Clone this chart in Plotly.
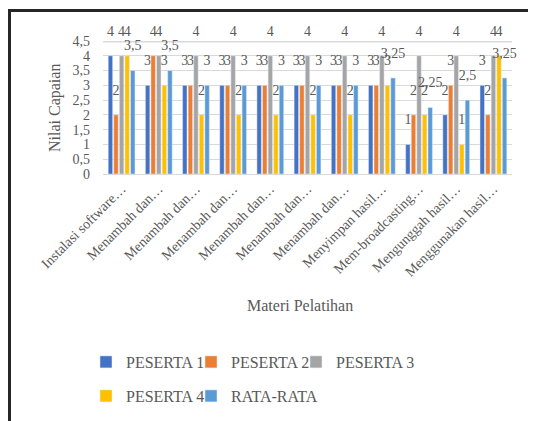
import plotly.graph_objects as go

categories = [
    "Instalasi software…", "Menambah dan…", "Menambah dan…", "Menambah dan…",
    "Menambah dan…", "Menambah dan…", "Menambah dan…", "Menyimpan hasil…",
    "Mem-broadcasting…", "Mengunggah hasil…", "Menggunakan hasil…",
]
peserta1 = [4, 3, 3, 3, 3, 3, 3, 3, 1, 2, 3]
peserta2 = [2, 4, 3, 3, 3, 3, 3, 3, 2, 3, 2]
peserta3 = [4, 4, 4, 4, 4, 4, 4, 4, 4, 4, 4]
peserta4 = [4, 3, 2, 2, 2, 2, 2, 3, 2, 1, 4]
rata_rata = [3.5, 3.5, 3, 3, 3, 3, 3, 3.25, 2.25, 2.5, 3.25]
y_ticks = [0, 0.5, 1, 1.5, 2, 2.5, 3, 3.5, 4, 4.5]

series = [
    ("PESERTA 1", peserta1, "#4472C4", "legend", 60),
    ("PESERTA 2", peserta2, "#ED7D31", "legend", 60),
    ("PESERTA 3", peserta3, "#A5A5A5", "legend", 95),
    ("PESERTA 4", peserta4, "#FFC000", "legend2", 60),
    ("RATA-RATA", rata_rata, "#5B9BD5", "legend2", 100),
]

FONT = "Liberation Serif"
GRAY = "#595959"
OFF = 8  # page body margin

def fmt(v):
    return ("%g" % v).replace(".", ",")

def label(v):
    # value label with a small spacer line below it, to lift it off the bar
    return fmt(v) + "<br><span style='font-size:9px'>\u00a0</span>"

x_idx = list(range(len(categories)))

fig = go.Figure()
for name, vals, color, leg, lw in series:
    fig.add_trace(go.Bar(
        name=name, x=x_idx, y=vals, marker_color=color,
        text=[label(v) for v in vals], textposition="outside",
        constraintext="none", cliponaxis=False,
        textfont=dict(family=FONT, size=14, color=GRAY),
        legend=leg, legendwidth=lw,
    ))

W, H = 536 - OFF, 421 - OFF
PL, PR, PT, PB = 103, 512, 41, 174  # plot area in page pixels
L, T = PL - OFF, PT - OFF
R = W - (PR - OFF)
B = H - (PB - OFF)
pw, ph = PR - PL, PB - PT

def px_x(p):
    return (p - PL) / pw

def px_y(p):
    return (PB - p) / ph

leg_common = dict(
    orientation="h", xanchor="left", yanchor="middle",
    entrywidthmode="pixels", itemwidth=30,
    font=dict(family=FONT, size=16, color=GRAY),
    traceorder="normal", bgcolor="rgba(0,0,0,0)",
)

fig.update_layout(
    width=W, height=H,
    margin=dict(l=L, r=R, t=T, b=B, autoexpand=False),
    paper_bgcolor="white", plot_bgcolor="white",
    separators=",.",
    barmode="group", bargap=0.25, bargroupgap=0.2,
    font=dict(family=FONT, color=GRAY),
    showlegend=True,
    legend=dict(x=px_x(86), y=px_y(362), **leg_common),
    legend2=dict(x=px_x(86), y=px_y(396), **leg_common),
    xaxis=dict(
        tickmode="array", tickvals=x_idx, ticktext=categories,
        tickangle=-45, tickfont=dict(family=FONT, size=14, color=GRAY),
        showgrid=False, showline=True, linecolor="#D9D9D9", linewidth=1,
        range=[-0.5, len(categories) - 0.5], automargin=False,
    ),
    yaxis=dict(
        range=[0, 4.5], tickmode="array", tickvals=y_ticks,
        tickfont=dict(family=FONT, size=14, color=GRAY),
        showgrid=True, gridcolor="#D9D9D9", gridwidth=1, zeroline=False,
        ticks="", ticklabelstandoff=12,
        automargin=False,
    ),
    annotations=[
        dict(text="Nilai Capaian", xref="paper", yref="paper",
             x=px_x(55), y=px_y(108), textangle=-90, showarrow=False,
             font=dict(family=FONT, size=16, color=GRAY),
             xanchor="center", yanchor="middle"),
        dict(text="Materi Pelatihan", xref="paper", yref="paper",
             x=px_x(300), y=px_y(305), showarrow=False,
             font=dict(family=FONT, size=16, color=GRAY),
             xanchor="center", yanchor="middle"),
    ],
    shapes=[
        dict(type="line", xref="paper", yref="y", x0=0, x1=1, y0=4.5, y1=4.5,
             line=dict(color="#D9D9D9", width=3), layer="below"),
        dict(type="rect", xref="paper", yref="paper",
             x0=px_x(9.5), x1=px_x(560), y0=px_y(10.5), y1=px_y(450),
             line=dict(color="#262626", width=3), fillcolor="rgba(0,0,0,0)"),
    ],
)

fig.write_html("out.html")
